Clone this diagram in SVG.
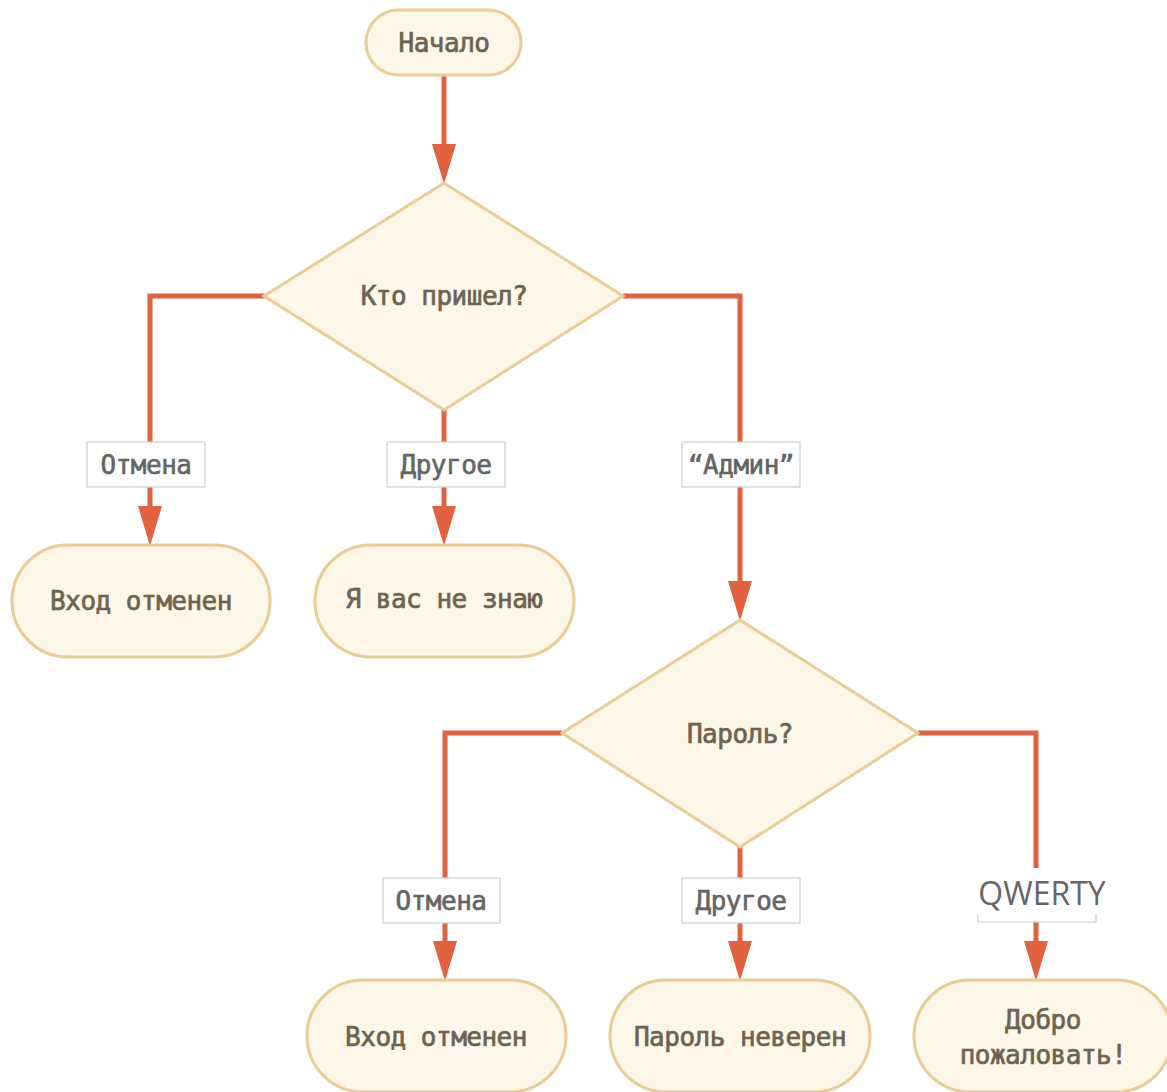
<svg xmlns="http://www.w3.org/2000/svg" width="1167" height="1092" viewBox="0 0 1167 1092">
<style>
.node{fill:#fef6e8;stroke:#ebcc94;stroke-width:3}
.t{font-family:"DejaVu Sans Mono","Liberation Mono",monospace;font-size:26px;letter-spacing:-0.5px;fill:#6e6350;stroke:#6e6350;stroke-width:0.7;text-anchor:middle}
.lbl{fill:#ffffff;stroke:#cfcfcf;stroke-width:1.2}
.lt{font-family:"DejaVu Sans Mono","Liberation Mono",monospace;font-size:26px;letter-spacing:-0.5px;fill:#646464;stroke:#646464;stroke-width:0.6;text-anchor:middle}
.c{fill:none;stroke:#e2613f;stroke-width:5}
</style>
<defs>
<marker id="ah" markerUnits="userSpaceOnUse" viewBox="0 0 40 24" refX="0" refY="12" markerWidth="40" markerHeight="24" orient="auto">
<path d="M0,0 L40,12 L0,24 z" fill="#e2613f"/>
</marker>
</defs>
<rect width="1167" height="1092" fill="#ffffff"/>
<g id="connectors">
<path class="c" d="M444,75 V144" marker-end="url(#ah)"/>
<path class="c" d="M264,296 H150 V506" marker-end="url(#ah)"/>
<path class="c" d="M444,410 V506" marker-end="url(#ah)"/>
<path class="c" d="M623,296 H740 V581" marker-end="url(#ah)"/>
<path class="c" d="M562,733 H445 V941" marker-end="url(#ah)"/>
<path class="c" d="M740,847 V941" marker-end="url(#ah)"/>
<path class="c" d="M918,733 H1036 V941" marker-end="url(#ah)"/>
</g>
<g id="start">
<rect class="node" x="366" y="10" width="155" height="65" rx="32.5"/>
<text class="t" x="444" y="52">Начало</text>
</g>
<g id="q1">
<polygon class="node" points="444,183 623,296 444,410 264,296"/>
<text class="t" x="444" y="305">Кто пришел?</text>
</g>
<g id="lbl-cancel1">
<rect class="lbl" x="87" y="442" width="118" height="45"/>
<text class="lt" x="146" y="474">Отмена</text>
</g>
<g id="lbl-other1">
<rect class="lbl" x="387" y="442" width="118" height="45"/>
<text class="lt" x="446" y="474">Другое</text>
</g>
<g id="lbl-admin">
<rect class="lbl" x="682" y="442" width="118" height="45"/>
<text class="lt" x="741" y="474">“Админ”</text>
</g>
<g id="cancelled1">
<rect class="node" x="12" y="545" width="258" height="112" rx="56"/>
<text class="t" x="141" y="610">Вход отменен</text>
</g>
<g id="unknown">
<rect class="node" x="315" y="545" width="259" height="112" rx="56"/>
<text class="t" x="444" y="608">Я вас не знаю</text>
</g>
<g id="q2">
<polygon class="node" points="740,620 918,733 740,847 562,733"/>
<text class="t" x="740" y="743">Пароль?</text>
</g>
<g id="lbl-cancel2">
<rect class="lbl" x="383" y="878" width="117" height="45"/>
<text class="lt" x="441" y="910">Отмена</text>
</g>
<g id="lbl-other2">
<rect class="lbl" x="682" y="878" width="118" height="45"/>
<text class="lt" x="741" y="910">Другое</text>
</g>
<g id="lbl-qwerty">
<rect x="975" y="868" width="124" height="54" fill="#ffffff"/>
<path d="M978,914 V922 H1096 V914" fill="none" stroke="#cfcfcf" stroke-width="1.2"/>
<text x="1042" y="905" font-family="'Open Sans',sans-serif" font-size="32" fill="#666666" text-anchor="middle">QWERTY</text>
</g>
<g id="cancelled2">
<rect class="node" x="307" y="980" width="259" height="112" rx="56"/>
<text class="t" x="436" y="1046">Вход отменен</text>
</g>
<g id="wrong">
<rect class="node" x="610" y="980" width="260" height="112" rx="56"/>
<text class="t" x="740" y="1046">Пароль неверен</text>
</g>
<g id="welcome">
<rect class="node" x="914" y="980" width="258" height="112" rx="56"/>
<text class="t" x="1043" y="1029">Добро</text>
<text class="t" x="1043" y="1064">пожаловать!</text>
</g>
</svg>
